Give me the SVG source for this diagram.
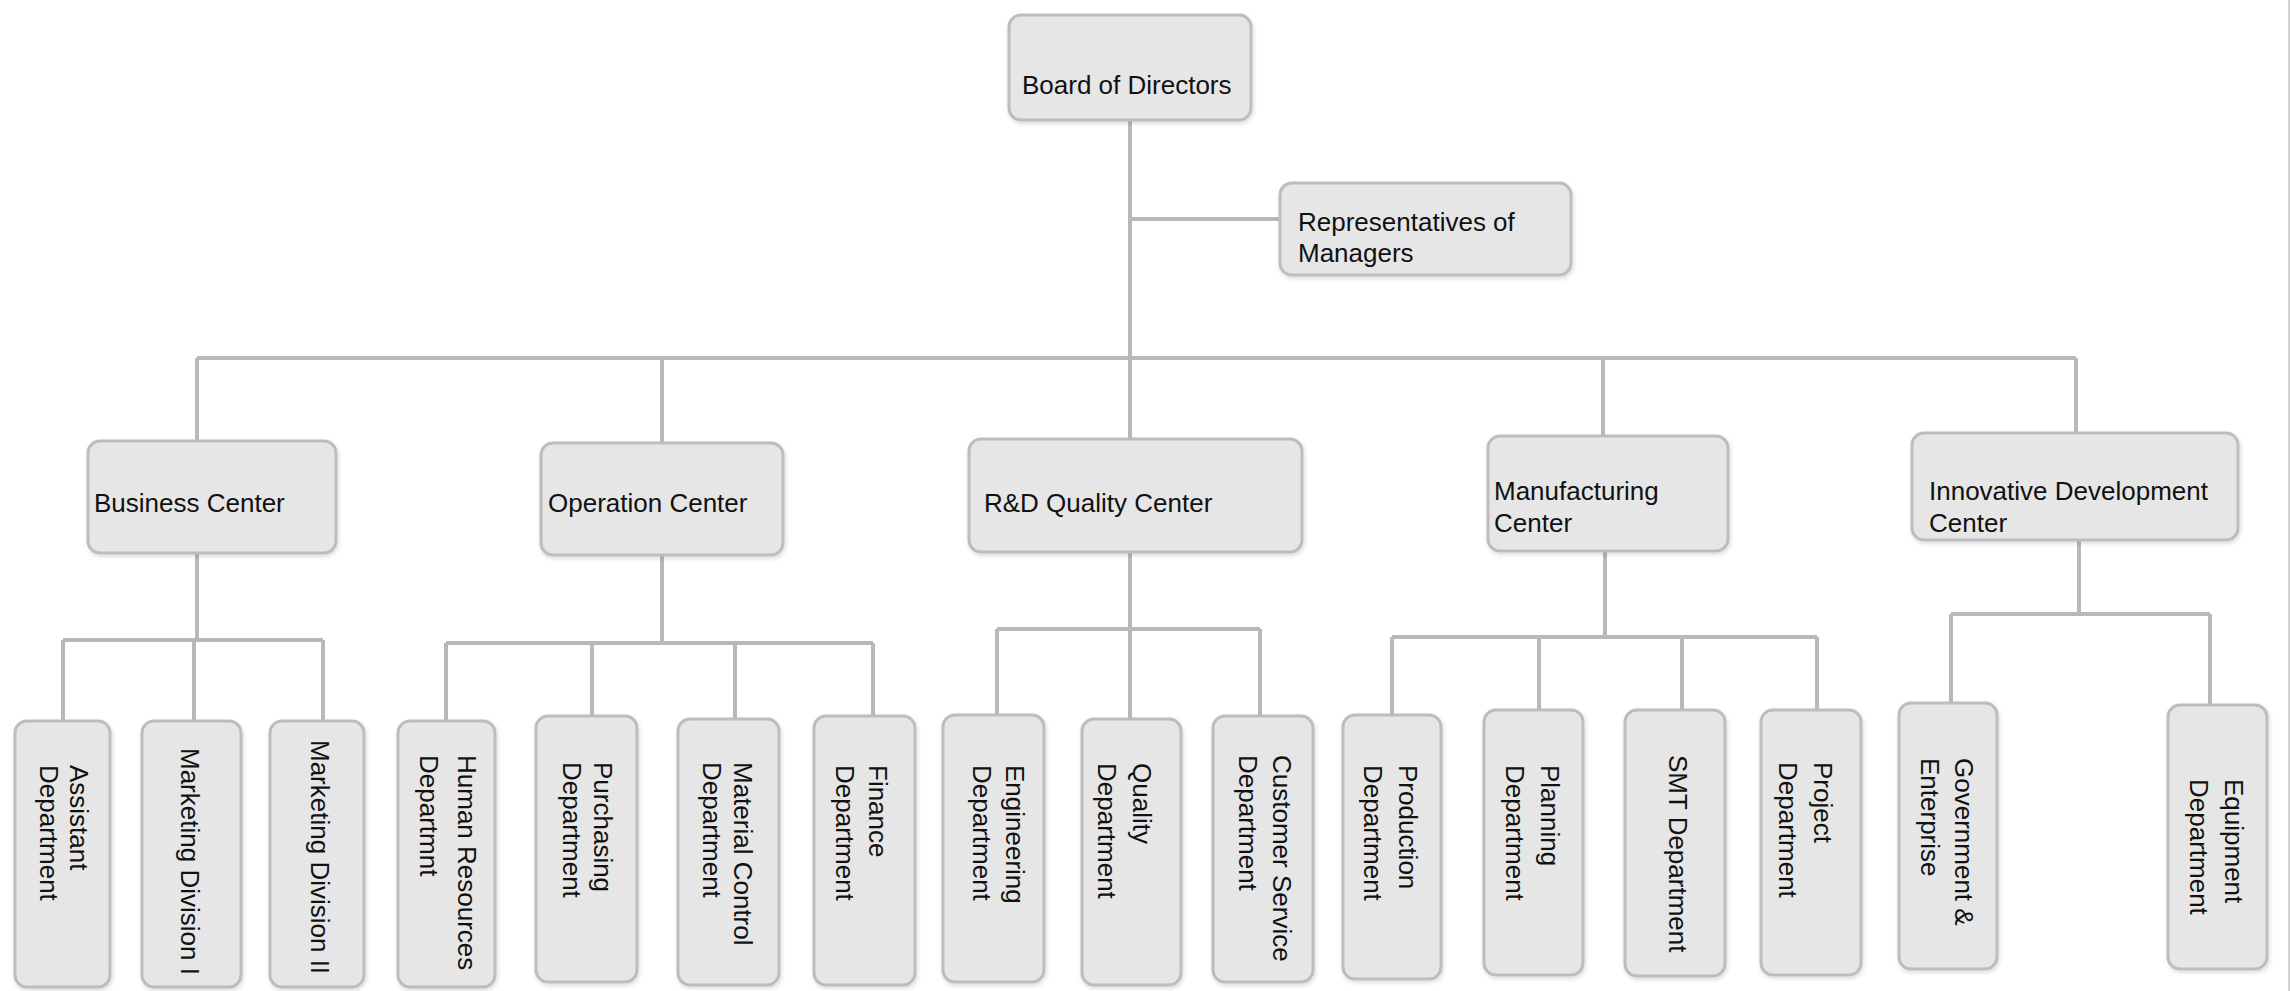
<svg xmlns="http://www.w3.org/2000/svg" width="2292" height="991" viewBox="0 0 2292 991">
<defs>
<filter id="sh" x="-10%" y="-10%" width="130%" height="130%"><feDropShadow dx="1" dy="2" stdDeviation="2" flood-color="#000" flood-opacity="0.15"/></filter>
</defs>
<style>
.box{fill:#e6e6e6;stroke:#bdbdbd;stroke-width:3;filter:url(#sh)}
.lbl{font-family:"Liberation Sans",Arial,sans-serif;font-size:26px;fill:#111}
.conn{fill:none;stroke:#b8b8b8;stroke-width:4}
</style>
<rect width="2292" height="991" fill="#ffffff"/>
<line x1="2289" y1="0" x2="2289" y2="991" stroke="#d2d2d2" stroke-width="2"/>
<g id="connectors" class="conn">
<path d="M1130 120V358M1130 219H1280"/>
<path d="M197 358H2076M197 358V441M662 358V443M1130 358V439M1603 358V436M2076 358V433"/>
<path d="M197 553V640M63 640H323M63 640V721M194 640V721M323 640V721"/>
<path d="M662 555V643M446 643H873M446 643V720M592 643V716M735 643V719M873 643V716"/>
<path d="M1130 552V629M997 629H1260M997 629V715M1130 629V719M1260 629V716"/>
<path d="M1605 551V637M1392 637H1817M1392 637V715M1539 637V710M1682 637V710M1817 637V710"/>
<path d="M2079 540V614M1951 614H2210M1951 614V703M2210 614V705"/>
</g>
<g id="board"><rect class="box" x="1009" y="15" width="242" height="105" rx="12"/><text class="lbl" x="1022" y="94">Board of Directors</text></g>
<g id="rep"><rect class="box" x="1280" y="183" width="291" height="92" rx="12"/><text class="lbl" x="1298" y="231">Representatives of</text><text class="lbl" x="1298" y="262">Managers</text></g>
<g id="business"><rect class="box" x="88" y="441" width="248" height="112" rx="12"/><text class="lbl" x="94" y="512">Business Center</text></g>
<g id="operation"><rect class="box" x="541" y="443" width="242" height="112" rx="12"/><text class="lbl" x="548" y="512">Operation Center</text></g>
<g id="rdq"><rect class="box" x="969" y="439" width="333" height="113" rx="12"/><text class="lbl" x="984" y="512">R&amp;D Quality Center</text></g>
<g id="mfg"><rect class="box" x="1488" y="436" width="240" height="115" rx="12"/><text class="lbl" x="1494" y="500">Manufacturing</text><text class="lbl" x="1494" y="532">Center</text></g>
<g id="innov"><rect class="box" x="1912" y="433" width="326" height="107" rx="12"/><text class="lbl" x="1929" y="500">Innovative Development</text><text class="lbl" x="1929" y="532">Center</text></g>
<g id="assistant"><rect class="box" x="15" y="721" width="95" height="266" rx="12"/><text class="lbl" transform="translate(70,765) rotate(90)">Assistant</text><text class="lbl" transform="translate(40,765) rotate(90)">Department</text></g>
<g id="mkt1"><rect class="box" x="142" y="721" width="99" height="266" rx="12"/><text class="lbl" transform="translate(181,748) rotate(90)">Marketing Division I</text></g>
<g id="mkt2"><rect class="box" x="270" y="721" width="94" height="266" rx="12"/><text class="lbl" transform="translate(311,740) rotate(90)">Marketing Division II</text></g>
<g id="hr"><rect class="box" x="398" y="721" width="97" height="266" rx="12"/><text class="lbl" transform="translate(458,755) rotate(90)">Human Resources</text><text class="lbl" transform="translate(420,755) rotate(90)">Departmnt</text></g>
<g id="purchasing"><rect class="box" x="536" y="716" width="101" height="266" rx="12"/><text class="lbl" transform="translate(594,762) rotate(90)">Purchasing</text><text class="lbl" transform="translate(563,762) rotate(90)">Department</text></g>
<g id="material"><rect class="box" x="678" y="719" width="101" height="266" rx="12"/><text class="lbl" transform="translate(734,762) rotate(90)">Material Control</text><text class="lbl" transform="translate(703,762) rotate(90)">Department</text></g>
<g id="finance"><rect class="box" x="814" y="716" width="101" height="269" rx="12"/><text class="lbl" transform="translate(869,765) rotate(90)">Finance</text><text class="lbl" transform="translate(836,765) rotate(90)">Department</text></g>
<g id="engineering"><rect class="box" x="943" y="715" width="101" height="267" rx="12"/><text class="lbl" transform="translate(1006,765) rotate(90)">Engineering</text><text class="lbl" transform="translate(973,765) rotate(90)">Department</text></g>
<g id="quality"><rect class="box" x="1082" y="719" width="99" height="266" rx="12"/><text class="lbl" transform="translate(1133,763) rotate(90)">Quality</text><text class="lbl" transform="translate(1098,763) rotate(90)">Department</text></g>
<g id="customer"><rect class="box" x="1213" y="716" width="100" height="266" rx="12"/><text class="lbl" transform="translate(1273,755) rotate(90)">Customer Service</text><text class="lbl" transform="translate(1239,755) rotate(90)">Department</text></g>
<g id="production"><rect class="box" x="1343" y="715" width="98" height="264" rx="12"/><text class="lbl" transform="translate(1399,765) rotate(90)">Production</text><text class="lbl" transform="translate(1364,765) rotate(90)">Department</text></g>
<g id="planning"><rect class="box" x="1484" y="710" width="99" height="265" rx="12"/><text class="lbl" transform="translate(1541,765) rotate(90)">Planning</text><text class="lbl" transform="translate(1506,765) rotate(90)">Department</text></g>
<g id="smt"><rect class="box" x="1625" y="710" width="100" height="266" rx="12"/><text class="lbl" transform="translate(1669,755) rotate(90)">SMT Department</text></g>
<g id="project"><rect class="box" x="1761" y="710" width="100" height="265" rx="12"/><text class="lbl" transform="translate(1814,762) rotate(90)">Project</text><text class="lbl" transform="translate(1779,762) rotate(90)">Department</text></g>
<g id="government"><rect class="box" x="1899" y="703" width="98" height="266" rx="12"/><text class="lbl" transform="translate(1955,758) rotate(90)">Government &amp;</text><text class="lbl" transform="translate(1921,758) rotate(90)">Enterprise</text></g>
<g id="equipment"><rect class="box" x="2168" y="705" width="99" height="264" rx="12"/><text class="lbl" transform="translate(2225,779) rotate(90)">Equipment</text><text class="lbl" transform="translate(2190,779) rotate(90)">Department</text></g>
</svg>
